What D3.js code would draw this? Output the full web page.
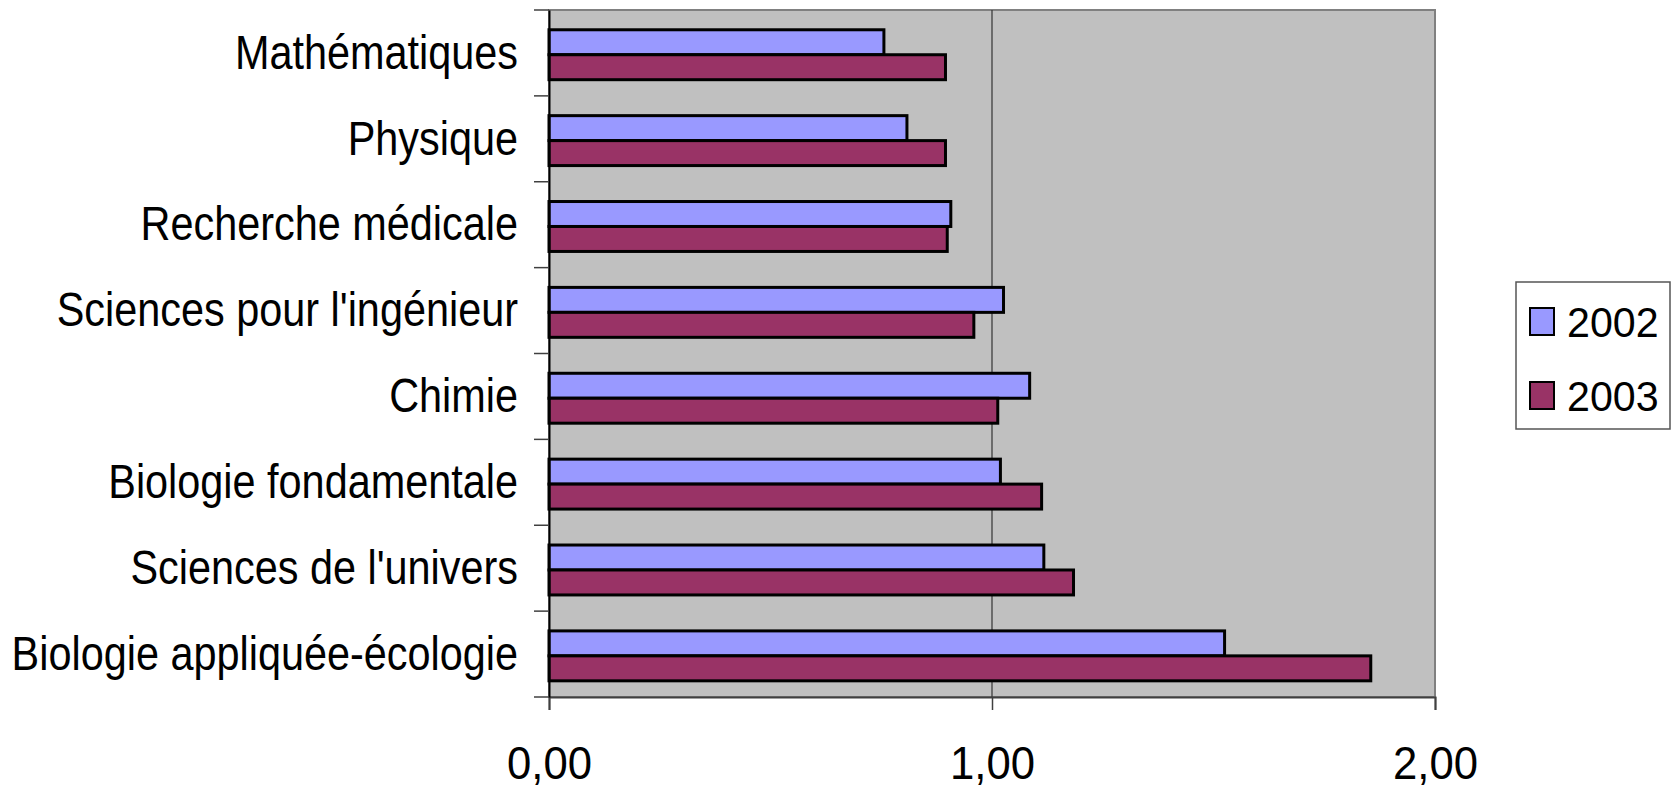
<!DOCTYPE html>
<html>
<head>
<meta charset="utf-8">
<script src="https://cdn.jsdelivr.net/npm/d3@7"></script>
<style>
  body { margin: 0; background: #fff; }
  svg { display: block; }
  .cat text { font-family: "Liberation Sans", Arial, sans-serif; font-size: 49px; fill: #000; }
  .xax text { font-family: "Liberation Sans", Arial, sans-serif; font-size: 46px; fill: #000; }
  .legend text { font-family: "Liberation Sans", Arial, sans-serif; font-size: 42px; fill: #000; }
</style>
</head>
<body>
<svg id="chart" width="1673" height="788"></svg>
<script>
// catégories, de haut en bas
var categories = ['Mathématiques', 'Physique', 'Recherche médicale', "Sciences pour l'ingénieur",
    'Chimie', 'Biologie fondamentale', "Sciences de l'univers", 'Biologie appliquée-écologie'];
var series = ['2002', '2003'];
var values2002 = [0.756, 0.808, 0.907, 1.026, 1.085, 1.019, 1.117, 1.525];
var values2003 = [0.895, 0.895, 0.899, 0.959, 1.013, 1.112, 1.184, 1.855];
var xTicks = [0, 1, 2];
var colors = ['#9999ff', '#993366'];

var svg = d3.select('#chart');
var m = { left: 549, right: 1435, top: 10, bottom: 697 };
var squeeze = 0.845; // les libellés de l'original sont étroits

var fr = d3.formatLocale({ decimal: ',', thousands: ' ', grouping: [3], currency: ['', ' €'] });

var x = d3.scaleLinear().domain([0, 2]).range([m.left, m.right]);
var y0 = d3.scaleBand().domain(categories).range([m.top, m.bottom]);
var y1 = d3.scaleBand().domain(series).range([0, y0.bandwidth()]).paddingOuter(0.72).align(0.55);
var color = d3.scaleOrdinal().domain(series).range(colors);

var data = categories.map((c, i) => ({ cat: c, vals: [values2002[i], values2003[i]] }));

// fond gris de la zone de tracé
svg.append('rect')
    .attr('x', m.left).attr('y', m.top)
    .attr('width', m.right - m.left).attr('height', m.bottom - m.top)
    .attr('fill', '#c0c0c0')
    .attr('stroke', '#808080').attr('stroke-width', 2);

// ligne de quadrillage verticale
svg.selectAll('line.grid').data(xTicks.slice(1, -1)).enter().append('line')
    .attr('class', 'grid')
    .attr('x1', d => x(d)).attr('x2', d => x(d))
    .attr('y1', m.top).attr('y2', m.bottom)
    .attr('stroke', '#333').attr('stroke-width', 1.2);

// barres
var g = svg.selectAll('g.grp').data(data).enter().append('g')
    .attr('class', 'grp')
    .attr('transform', d => 'translate(0,' + y0(d.cat) + ')');

g.selectAll('rect').data(d => d.vals.map((v, j) => ({ s: series[j], v: v }))).enter().append('rect')
    .attr('x', x(0))
    .attr('y', d => y1(d.s))
    .attr('width', d => x(d.v) - x(0))
    .attr('height', y1.bandwidth())
    .attr('fill', d => color(d.s))
    .attr('stroke', '#000').attr('stroke-width', 3);

// axe des x
var xAxis = svg.append('g').attr('class', 'xax')
    .attr('transform', 'translate(0,' + m.bottom + ')')
    .call(d3.axisBottom(x).tickValues(xTicks).tickFormat(fr.format('.2f')).tickSize(13).tickPadding(36));
xAxis.select('.domain').attr('stroke', '#404040').attr('stroke-width', 2);
xAxis.selectAll('.tick line').attr('stroke', '#404040').attr('stroke-width', 1.5);
xAxis.selectAll('.tick text').attr('transform', 'scale(0.95,1)');

// axe des catégories
var yAxis = svg.append('g').attr('class', 'cat')
    .attr('transform', 'translate(' + m.left + ',0)')
    .call(d3.axisLeft(y0).tickSize(0).tickPadding(31));
yAxis.select('.domain').attr('stroke', '#000').attr('stroke-width', 2);
yAxis.selectAll('.tick text')
    .attr('x', -31 / squeeze)
    .attr('transform', 'scale(' + squeeze + ',1)');

// graduations entre les catégories
var bounds = categories.map(c => y0(c)).concat([m.bottom]);
svg.selectAll('line.ytick').data(bounds).enter().append('line')
    .attr('class', 'ytick')
    .attr('x1', m.left - 15).attr('x2', m.left)
    .attr('y1', d => d).attr('y2', d => d)
    .attr('stroke', '#404040').attr('stroke-width', 1.5);

// légende
var lg = svg.append('g').attr('class', 'legend');
lg.append('rect')
    .attr('x', 1516).attr('y', 282).attr('width', 154).attr('height', 147)
    .attr('fill', '#fff').attr('stroke', '#555').attr('stroke-width', 1.5);
var item = lg.selectAll('g.item').data(series).enter().append('g')
    .attr('class', 'item')
    .attr('transform', (d, i) => 'translate(1530,' + (308 + i * 74) + ')');
item.append('rect')
    .attr('width', 24).attr('height', 27)
    .attr('fill', d => color(d))
    .attr('stroke', '#000').attr('stroke-width', 2);
item.append('text')
    .attr('transform', 'translate(37,29) scale(0.98,1)')
    .text(d => d);
</script>
</body>
</html>
